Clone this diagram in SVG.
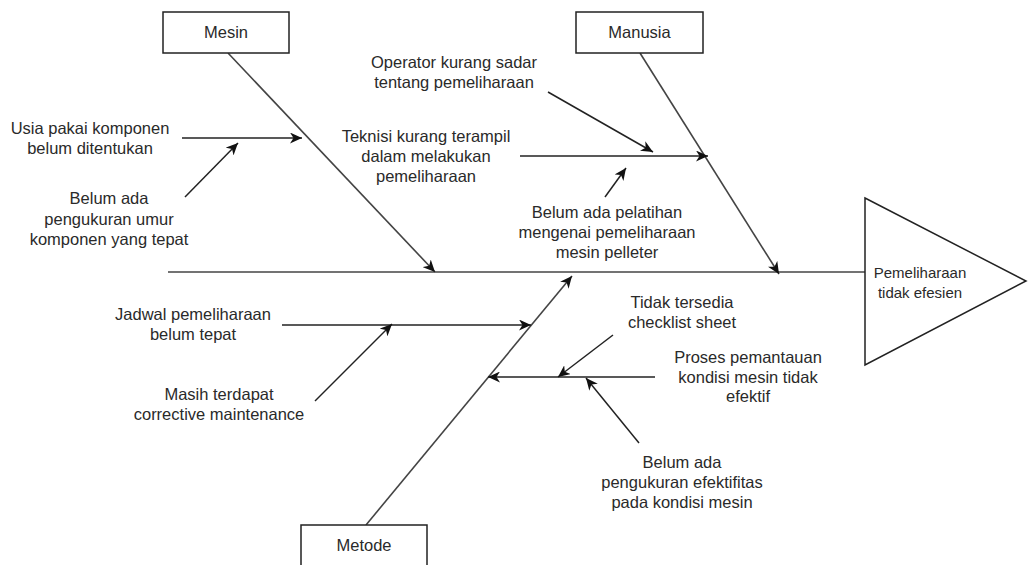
<svg xmlns="http://www.w3.org/2000/svg" width="1028" height="565" viewBox="0 0 1028 565">
<style>
.box{fill:#fff;stroke:#222;stroke-width:1.5}
.t{font-family:"Liberation Sans",Arial,sans-serif;font-size:16.5px;fill:#2a2a2a;text-anchor:middle}
.ts{font-family:"Liberation Sans",Arial,sans-serif;font-size:15px;fill:#2a2a2a;text-anchor:middle}
.bone{stroke:#444;stroke-width:1.6;fill:none}
.arr{stroke:#222;stroke-width:1.5;fill:none;marker-end:url(#ah)}
</style>
<defs>
<marker id="ah" markerUnits="userSpaceOnUse" markerWidth="13" markerHeight="11" refX="12" refY="5.5" orient="auto">
<path d="M0,0 L12,5.5 L0,11 L3.5,5.5 z" fill="#111"/>
</marker>
</defs>
<g id="connectors">
<line class="bone" x1="168" y1="272" x2="866" y2="272"/>
<line class="bone" x1="228" y1="53" x2="435" y2="272" style="marker-end:url(#ah)"/>
<line class="bone" x1="640" y1="53" x2="779" y2="274" style="marker-end:url(#ah)"/>
<line class="bone" x1="366" y1="525" x2="572" y2="276" style="marker-end:url(#ah)"/>
<line class="arr" x1="182" y1="138" x2="302" y2="138"/>
<line class="arr" x1="185" y1="197" x2="238" y2="143"/>
<line class="arr" x1="548" y1="92" x2="653" y2="152"/>
<line class="arr" x1="520" y1="156" x2="708" y2="156"/>
<line class="arr" x1="605" y1="197" x2="626" y2="168"/>
<line class="arr" x1="282" y1="325" x2="531" y2="325"/>
<line class="arr" x1="315" y1="401" x2="392" y2="324"/>
<line class="arr" x1="655" y1="377" x2="488" y2="377"/>
<line class="arr" x1="613" y1="335" x2="558" y2="377"/>
<line class="arr" x1="639" y1="443" x2="586" y2="378"/>
</g>
<g id="mesin">
<rect class="box" x="163" y="12" width="126" height="41"/>
<text class="t" x="226" y="38">Mesin</text>
</g>
<g id="manusia">
<rect class="box" x="576" y="12" width="127" height="41"/>
<text class="t" x="639.5" y="38">Manusia</text>
</g>
<g id="metode">
<rect class="box" x="301" y="525" width="126" height="50"/>
<text class="t" x="364" y="551">Metode</text>
</g>
<g id="effect">
<polygon class="box" points="865,198 1026,281 865,365"/>
<text class="ts" x="920" y="278">Pemeliharaan</text>
<text class="ts" x="920" y="298">tidak efesien</text>
</g>
<g id="usia">
<text class="t" x="90" y="134">Usia pakai komponen</text>
<text class="t" x="90" y="154">belum ditentukan</text>
</g>
<g id="umur">
<text class="t" x="109" y="204">Belum ada</text>
<text class="t" x="109" y="224.5">pengukuran umur</text>
<text class="t" x="109" y="245">komponen yang tepat</text>
</g>
<g id="operator">
<text class="t" x="454" y="68">Operator kurang sadar</text>
<text class="t" x="454" y="88">tentang pemeliharaan</text>
</g>
<g id="teknisi">
<text class="t" x="426" y="142">Teknisi kurang terampil</text>
<text class="t" x="426" y="162">dalam melakukan</text>
<text class="t" x="426" y="182">pemeliharaan</text>
</g>
<g id="pelatihan">
<text class="t" x="607" y="218">Belum ada pelatihan</text>
<text class="t" x="607" y="238">mengenai pemeliharaan</text>
<text class="t" x="607" y="258">mesin pelleter</text>
</g>
<g id="jadwal">
<text class="t" x="193" y="320">Jadwal pemeliharaan</text>
<text class="t" x="193" y="340">belum tepat</text>
</g>
<g id="masih">
<text class="t" x="219" y="400">Masih terdapat</text>
<text class="t" x="219" y="420">corrective maintenance</text>
</g>
<g id="checklist">
<text class="t" x="682" y="308">Tidak tersedia</text>
<text class="t" x="682" y="328">checklist sheet</text>
</g>
<g id="proses">
<text class="t" x="748" y="363">Proses pemantauan</text>
<text class="t" x="748" y="383">kondisi mesin tidak</text>
<text class="t" x="748" y="402">efektif</text>
</g>
<g id="efektifitas">
<text class="t" x="682" y="468">Belum ada</text>
<text class="t" x="682" y="488">pengukuran efektifitas</text>
<text class="t" x="682" y="508">pada kondisi mesin</text>
</g>
</svg>
